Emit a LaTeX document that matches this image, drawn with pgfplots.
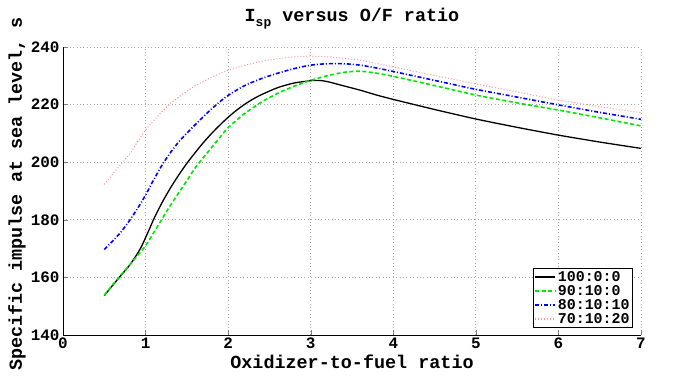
\documentclass[border=0pt]{standalone}
\usepackage{fontspec}
\setmainfont{Liberation Mono}
\usepackage{pgfplots}
\pgfplotsset{compat=1.18}
\definecolor{mygreen}{RGB}{0,230,0}
\definecolor{mypink}{RGB}{255,150,150}
\begin{document}
\begin{tikzpicture}[font=\bfseries]
\begin{axis}[
  at={(0,0)}, anchor=south west,
  scale only axis, width=578bp, height=288bp,
  xmin=0, xmax=7, ymin=140, ymax=240,
  xtick={0,1,...,7}, ytick={140,160,...,240},
  axis x line*=bottom, axis y line*=left,
  tick align=inside, major tick length=5bp,
  axis line style={line width=0.8bp, -},
  grid=major, grid style={dash pattern=on 0.8bp off 2.6bp, gray!70, line width=0.8bp},
  /pgf/number format/assume math mode=true,
  tick label style={font=\bfseries\fontsize{16}{18}\selectfont},
  xticklabel style={yshift=1bp},
  title={I\raisebox{-0.55ex}{\fontsize{13}{14}\selectfont sp} versus O/F ratio},
  title style={font=\bfseries\fontsize{18.5}{20}\selectfont, at={([yshift=20bp]axis description cs:0.5,1)}, anchor=base},
  xlabel={Oxidizer-to-fuel ratio},
  xlabel style={font=\bfseries\fontsize{18.5}{20}\selectfont, at={([yshift=-33bp]axis description cs:0.5,0)}, anchor=base},
  ylabel={Specific impulse at sea level, s},
  ylabel style={font=\bfseries\fontsize{18.5}{20}\selectfont, at={([xshift=-46bp,yshift=-3bp]axis description cs:0,0.5)}, anchor=center},
  legend style={font=\bfseries\fontsize{15}{16}\selectfont, at={([xshift=-8bp,yshift=7bp]axis description cs:1,0)}, anchor=south east, draw=black, line width=0.8bp, inner sep=1bp, row sep=-1.5bp, cells={anchor=west}},
  legend image code/.code={\draw[#1, line width=1.4bp] (0bp,0bp) -- (20bp,0bp);},
  every axis plot/.append style={smooth, tension=0.4},
]
\addplot[black, line width=1.3bp] coordinates {
(0.5,153.7)(0.6,157.2)(0.7,160.6)(0.8,164)(0.85,166)(0.9,168.2)(0.95,170.7)(1.0,173.8)(1.05,177)(1.1,180.3)(1.2,186)(1.3,191)(1.4,195.5)(1.5,199.6)(1.6,203.3)(1.7,206.8)(1.8,210)(1.9,212.9)(2.0,215.6)(2.1,218)(2.2,220.1)(2.3,221.9)(2.4,223.4)(2.6,225.9)(2.8,227.5)(3.0,228.3)(3.1,228.4)(3.2,228)(3.4,226.5)(3.6,225)(3.8,223.3)(4.0,221.8)(4.5,218.3)(5.0,215)(5.5,212.1)(6.0,209.4)(6.5,207)(7.0,204.8)};
\addlegendentry{100:0:0}
\addplot[mygreen, line width=1.6bp, dash pattern=on 4bp off 2.5bp] coordinates {
(0.5,153.8)(0.6,157.4)(0.7,160.8)(0.8,164.1)(0.9,167.5)(1.0,171)(1.1,175.6)(1.2,180.3)(1.3,185)(1.4,189.3)(1.5,193.6)(1.6,198)(1.7,201.6)(1.8,205.1)(1.9,208.6)(2.0,212)(2.2,216.9)(2.4,220.8)(2.6,223.9)(2.8,226.4)(3.0,228.4)(3.2,230)(3.4,231.2)(3.6,231.6)(3.8,230.9)(4.0,229.8)(4.5,226.6)(5.0,223.3)(5.5,220.6)(6.0,218.1)(6.5,215.4)(7.0,212.6)};
\addlegendentry{90:10:0}
\addplot[blue, line width=1.6bp, dash pattern=on 4bp off 2bp on 1bp off 2bp] coordinates {
(0.5,169.7)(0.6,172.6)(0.7,175.7)(0.8,179.5)(0.9,183.8)(1.0,188.6)(1.1,194)(1.2,199)(1.3,203.3)(1.4,207)(1.5,210.1)(1.6,213)(1.7,215.8)(1.8,218.5)(1.9,221)(2.0,223.2)(2.2,226.6)(2.4,229)(2.6,230.9)(2.8,232.5)(3.0,233.7)(3.2,234.2)(3.4,234.2)(3.6,233.7)(3.8,232.7)(4.0,231.5)(4.5,228.4)(5.0,225.3)(5.5,222.6)(6.0,219.9)(6.5,217.3)(7.0,214.9)};
\addlegendentry{80:10:10}
\addplot[mypink, line width=1bp, dotted] coordinates {
(0.5,192.3)(0.6,195.8)(0.7,199.3)(0.8,202.5)(0.9,207)(1.0,211.2)(1.1,214.5)(1.2,217.6)(1.3,220.4)(1.4,222.6)(1.5,224.6)(1.6,226.5)(1.8,229.5)(2.0,231.9)(2.2,233.6)(2.4,235)(2.6,235.9)(2.8,236.6)(3.0,236.8)(3.2,236.6)(3.4,236.1)(3.6,235.4)(3.8,234.3)(4.0,233.1)(4.5,230.1)(5.0,227.2)(5.5,224.4)(6.0,221.6)(6.5,219.3)(7.0,217.2)};
\addlegendentry{70:10:20}
\end{axis}
\path (-63bp,-47bp) rectangle (613bp,335bp);
\end{tikzpicture}
\end{document}
